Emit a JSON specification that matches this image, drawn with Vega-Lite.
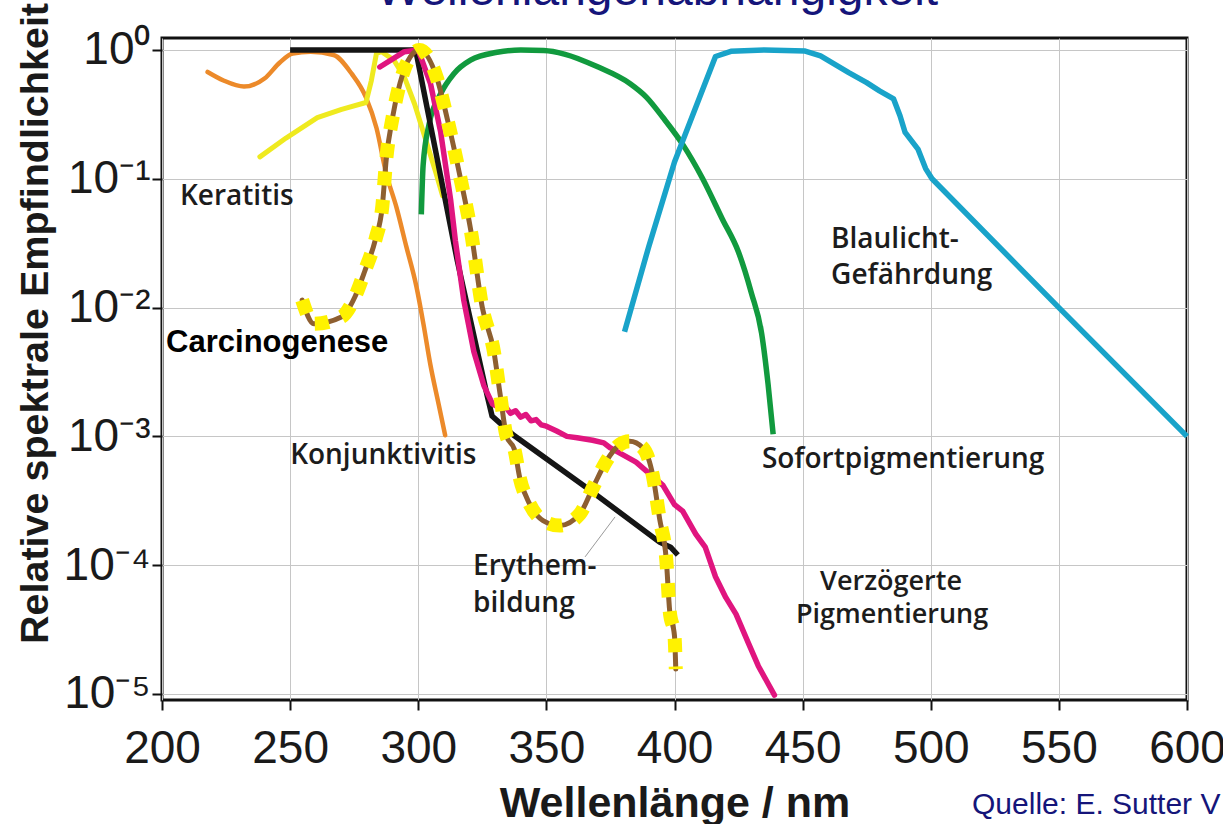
{
  "$schema": "https://vega.github.io/schema/vega-lite/v6.json",
  "width": 1025,
  "height": 662,
  "autosize": {"type": "none"},
  "padding": {"left": 162, "top": 38, "right": 36, "bottom": 124},
  "background": "white",
  "config": {
    "view": {"stroke": "#111111", "strokeWidth": 3},
    "axis": {"domain": false}
  },
  "datasets": {
    "curves": [
      {"s": "orange", "nm": 217.8, "v": 0.675}, {"s": "orange", "nm": 224, "v": 0.58}, {"s": "orange", "nm": 232, "v": 0.52}, {"s": "orange", "nm": 240, "v": 0.6}, {"s": "orange", "nm": 246, "v": 0.8}, {"s": "orange", "nm": 251, "v": 0.94}, {"s": "orange", "nm": 258, "v": 0.97}, {"s": "orange", "nm": 267, "v": 0.914}, {"s": "orange", "nm": 274, "v": 0.655}, {"s": "orange", "nm": 279.6, "v": 0.429}, {"s": "orange", "nm": 283.7, "v": 0.248}, {"s": "orange", "nm": 287.5, "v": 0.11}, {"s": "orange", "nm": 291.5, "v": 0.06}, {"s": "orange", "nm": 295.3, "v": 0.03}, {"s": "orange", "nm": 299.3, "v": 0.0145}, {"s": "orange", "nm": 302, "v": 0.0075}, {"s": "orange", "nm": 304.7, "v": 0.00363}, {"s": "orange", "nm": 308, "v": 0.00176}, {"s": "orange", "nm": 310.5, "v": 0.00102},

      {"s": "yellow", "nm": 238.2, "v": 0.148}, {"s": "yellow", "nm": 248.4, "v": 0.207}, {"s": "yellow", "nm": 260.6, "v": 0.298}, {"s": "yellow", "nm": 270.1, "v": 0.346}, {"s": "yellow", "nm": 279.6, "v": 0.391}, {"s": "yellow", "nm": 281.7, "v": 0.579}, {"s": "yellow", "nm": 283.7, "v": 0.942}, {"s": "yellow", "nm": 285.7, "v": 0.97}, {"s": "yellow", "nm": 290.5, "v": 0.834}, {"s": "yellow", "nm": 294.6, "v": 0.615}, {"s": "yellow", "nm": 298.6, "v": 0.379}, {"s": "yellow", "nm": 302.7, "v": 0.207}, {"s": "yellow", "nm": 306.8, "v": 0.113}, {"s": "yellow", "nm": 309.5, "v": 0.0738},

      {"s": "green", "nm": 301.2, "v": 0.053}, {"s": "green", "nm": 301.9, "v": 0.127}, {"s": "green", "nm": 304.2, "v": 0.264}, {"s": "green", "nm": 308.7, "v": 0.455}, {"s": "green", "nm": 313.9, "v": 0.655}, {"s": "green", "nm": 320.4, "v": 0.834}, {"s": "green", "nm": 330.8, "v": 0.96}, {"s": "green", "nm": 340, "v": 1.0}, {"s": "green", "nm": 349, "v": 0.99}, {"s": "green", "nm": 357, "v": 0.93}, {"s": "green", "nm": 370, "v": 0.74}, {"s": "green", "nm": 382.7, "v": 0.547}, {"s": "green", "nm": 389, "v": 0.431}, {"s": "green", "nm": 395.5, "v": 0.299}, {"s": "green", "nm": 403.2, "v": 0.185}, {"s": "green", "nm": 410.9, "v": 0.101}, {"s": "green", "nm": 418.6, "v": 0.049}, {"s": "green", "nm": 425, "v": 0.0269}, {"s": "green", "nm": 430, "v": 0.013}, {"s": "green", "nm": 434, "v": 0.0063}, {"s": "green", "nm": 436.5, "v": 0.00256}, {"s": "green", "nm": 438.5, "v": 0.00104},

      {"s": "blue", "nm": 380.5, "v": 0.0065}, {"s": "blue", "nm": 390, "v": 0.03}, {"s": "blue", "nm": 400, "v": 0.135}, {"s": "blue", "nm": 410, "v": 0.44}, {"s": "blue", "nm": 416, "v": 0.89}, {"s": "blue", "nm": 422, "v": 0.977}, {"s": "blue", "nm": 435, "v": 1.0}, {"s": "blue", "nm": 451, "v": 0.98}, {"s": "blue", "nm": 457, "v": 0.9}, {"s": "blue", "nm": 468, "v": 0.668}, {"s": "blue", "nm": 475, "v": 0.558}, {"s": "blue", "nm": 480, "v": 0.482}, {"s": "blue", "nm": 485.5, "v": 0.417}, {"s": "blue", "nm": 488, "v": 0.309}, {"s": "blue", "nm": 490, "v": 0.229}, {"s": "blue", "nm": 495, "v": 0.17}, {"s": "blue", "nm": 498, "v": 0.12}, {"s": "blue", "nm": 500.5, "v": 0.1}, {"s": "blue", "nm": 550, "v": 0.01}, {"s": "blue", "nm": 600, "v": 0.001},

      {"s": "black", "nm": 250, "v": 1.0}, {"s": "black", "nm": 299, "v": 1.0}, {"s": "black", "nm": 315.2, "v": 0.0233}, {"s": "black", "nm": 326.9, "v": 0.00207}, {"s": "black", "nm": 328.8, "v": 0.00144}, {"s": "black", "nm": 337, "v": 0.00103}, {"s": "black", "nm": 365.6, "v": 0.000401}, {"s": "black", "nm": 394.2, "v": 0.000151}, {"s": "black", "nm": 398.5, "v": 0.000138}, {"s": "black", "nm": 401.3, "v": 0.00012},

      {"s": "magenta", "nm": 285, "v": 0.738}, {"s": "magenta", "nm": 294.6, "v": 0.97}, {"s": "magenta", "nm": 300, "v": 1.0}, {"s": "magenta", "nm": 304.8, "v": 0.546}, {"s": "magenta", "nm": 308.7, "v": 0.233}, {"s": "magenta", "nm": 312.6, "v": 0.0695}, {"s": "magenta", "nm": 314.5, "v": 0.033}, {"s": "magenta", "nm": 317.8, "v": 0.0113}, {"s": "magenta", "nm": 321.7, "v": 0.00455}, {"s": "magenta", "nm": 325.6, "v": 0.00248}, {"s": "magenta", "nm": 329, "v": 0.00178}, {"s": "magenta", "nm": 332, "v": 0.00166}, {"s": "magenta", "nm": 334, "v": 0.0017}, {"s": "magenta", "nm": 336, "v": 0.00151}, {"s": "magenta", "nm": 338, "v": 0.00158}, {"s": "magenta", "nm": 340, "v": 0.00141}, {"s": "magenta", "nm": 342, "v": 0.00148}, {"s": "magenta", "nm": 344, "v": 0.00132}, {"s": "magenta", "nm": 346, "v": 0.00135}, {"s": "magenta", "nm": 348, "v": 0.00123}, {"s": "magenta", "nm": 350, "v": 0.0012}, {"s": "magenta", "nm": 354, "v": 0.0011}, {"s": "magenta", "nm": 358, "v": 0.001}, {"s": "magenta", "nm": 362, "v": 0.000977}, {"s": "magenta", "nm": 368, "v": 0.000933}, {"s": "magenta", "nm": 372.4, "v": 0.000891}, {"s": "magenta", "nm": 375, "v": 0.000813}, {"s": "magenta", "nm": 385, "v": 0.000631}, {"s": "magenta", "nm": 395.5, "v": 0.000417}, {"s": "magenta", "nm": 400, "v": 0.000295}, {"s": "magenta", "nm": 403.2, "v": 0.000263}, {"s": "magenta", "nm": 408.3, "v": 0.000174}, {"s": "magenta", "nm": 412, "v": 0.000138}, {"s": "magenta", "nm": 416, "v": 0.0000813}, {"s": "magenta", "nm": 420, "v": 0.0000562}, {"s": "magenta", "nm": 424, "v": 0.0000417}, {"s": "magenta", "nm": 428.8, "v": 0.0000249}, {"s": "magenta", "nm": 432.7, "v": 0.0000165}, {"s": "magenta", "nm": 439, "v": 0.0000098},

      {"s": "brown", "nm": 254.7, "v": 0.01143}, {"s": "brown", "nm": 259.3, "v": 0.00748}, {"s": "brown", "nm": 270, "v": 0.00845}, {"s": "brown", "nm": 275.3, "v": 0.01213}, {"s": "brown", "nm": 279.3, "v": 0.01963}, {"s": "brown", "nm": 283.3, "v": 0.0338}, {"s": "brown", "nm": 286, "v": 0.0618}, {"s": "brown", "nm": 287.5, "v": 0.141}, {"s": "brown", "nm": 290, "v": 0.301}, {"s": "brown", "nm": 294, "v": 0.658}, {"s": "brown", "nm": 298, "v": 0.942}, {"s": "brown", "nm": 300.5, "v": 1.0}, {"s": "brown", "nm": 307.3, "v": 0.603}, {"s": "brown", "nm": 311.5, "v": 0.282}, {"s": "brown", "nm": 316.5, "v": 0.1}, {"s": "brown", "nm": 320.5, "v": 0.0398}, {"s": "brown", "nm": 325, "v": 0.01}, {"s": "brown", "nm": 329.5, "v": 0.00457}, {"s": "brown", "nm": 332, "v": 0.00209}, {"s": "brown", "nm": 334.5, "v": 0.001}, {"s": "brown", "nm": 337.5, "v": 0.000794}, {"s": "brown", "nm": 339.6, "v": 0.000478}, {"s": "brown", "nm": 343.5, "v": 0.000298}, {"s": "brown", "nm": 348.7, "v": 0.000222}, {"s": "brown", "nm": 355.2, "v": 0.000203}, {"s": "brown", "nm": 363, "v": 0.000249}, {"s": "brown", "nm": 368.2, "v": 0.000401}, {"s": "brown", "nm": 373.4, "v": 0.000643}, {"s": "brown", "nm": 378.6, "v": 0.000863}, {"s": "brown", "nm": 382.5, "v": 0.000916}, {"s": "brown", "nm": 387.7, "v": 0.000813}, {"s": "brown", "nm": 391.6, "v": 0.00049}, {"s": "brown", "nm": 394.2, "v": 0.000229}, {"s": "brown", "nm": 396.8, "v": 0.00011}, {"s": "brown", "nm": 398.1, "v": 0.0000447}, {"s": "brown", "nm": 400, "v": 0.0000282}, {"s": "brown", "nm": 400.5, "v": 0.0000156},

      {"s": "leader", "nm": 365.1, "v": 0.000116}, {"s": "leader", "nm": 376.8, "v": 0.000237}
    ],
    "labels": [
      {"t": "Keratitis", "nm": 207, "v": 0.0722},
      {"t": "Konjunktivitis", "nm": 250, "v": 0.0007},
      {"t": "Erythem-", "nm": 321.4, "v": 0.0000968},
      {"t": "bildung", "nm": 321.4, "v": 0.00005},
      {"t": "Sofortpigmentierung", "nm": 434.1, "v": 0.000661},
      {"t": "Blaulicht-", "nm": 461.1, "v": 0.0332},
      {"t": "Gefährdung", "nm": 461.1, "v": 0.0176}
    ],
    "centered": [
      {"t": "Verzögerte", "nm": 484.5, "v": 0.0000743},
      {"t": "Pigmentierung", "nm": 484.9, "v": 0.0000407}
    ],
    "bold": [
      {"t": "Carcinogenese", "nm": 201.6, "v": 0.00531}
    ],
    "source": [
      {"t": "Quelle: E. Sutter V", "nm": 516.1, "v": 0.000001374}
    ],
    "heading": [
      {"t": "Wellenlängenabhängigkeit", "nm": 393.2, "v": 2.236}
    ]
  },
  "encoding": {
    "x": {
      "field": "nm", "type": "quantitative",
      "scale": {"domain": [200, 600], "nice": false, "zero": false},
      "axis": {
        "values": [200, 250, 300, 350, 400, 450, 500, 550, 600],
        "grid": true, "gridColor": "#c6c6c6", "gridWidth": 1,
        "ticks": true, "tickSize": 10, "tickWidth": 2, "tickColor": "#111111",
        "labelFont": "Liberation Sans Narrow, Liberation Sans", "labelFontSize": 46, "labelColor": "#1a1a1a",
        "labelPadding": 16, "labelOverlap": false, "labelFlush": false, "labelBound": false,
        "title": "Wellenlänge / nm", "titleFont": "Liberation Sans", "titleFontSize": 43, "titleFontWeight": "bold",
        "titleColor": "#1a1a1a", "titlePadding": 11
      }
    },
    "y": {
      "field": "v", "type": "quantitative",
      "scale": {"type": "log", "domain": [0.00000898, 1.239], "nice": false},
      "axis": {
        "values": [1, 0.1, 0.01, 0.001, 0.0001, 0.00001],
        "grid": true, "gridColor": "#c6c6c6", "gridWidth": 1,
        "ticks": true, "tickSize": 10, "tickWidth": 2, "tickColor": "#111111",
        "labelExpr": "'10' + ['⁰','⁻¹','⁻²','⁻³','⁻⁴','⁻⁵'][round(-log(datum.value)/LN10)]",
        "labelFont": "Liberation Sans Narrow, Liberation Sans", "labelFontSize": 46, "labelColor": "#1a1a1a",
        "labelPadding": 2, "labelOverlap": false, "labelBound": false,
        "title": "Relative spektrale Empfindlichkeit", "titleFont": "Liberation Sans", "titleFontSize": 39.5, "titleFontWeight": "bold",
        "titleColor": "#1a1a1a", "titleX": -127, "titleY": 285, "titleAngle": -90, "titleAlign": "center", "titleBaseline": "middle"
      }
    }
  },
  "layer": [
    {"data": {"name": "curves"}, "transform": [{"filter": "datum.s == 'orange'"}], "mark": {"type": "line", "color": "#EC8A2A", "strokeWidth": 4.5, "strokeJoin": "round", "strokeCap": "round", "interpolate": "monotone"}},
    {"data": {"name": "curves"}, "transform": [{"filter": "datum.s == 'yellow'"}], "mark": {"type": "line", "color": "#EFEA1F", "strokeWidth": 5, "strokeJoin": "round", "strokeCap": "round"}},
    {"data": {"name": "curves"}, "transform": [{"filter": "datum.s == 'green'"}], "mark": {"type": "line", "color": "#119A3E", "strokeWidth": 5.5, "strokeJoin": "round", "strokeCap": "butt", "interpolate": "monotone"}},
    {"data": {"name": "curves"}, "transform": [{"filter": "datum.s == 'blue'"}], "mark": {"type": "line", "color": "#19A3C9", "strokeWidth": 5.5, "strokeJoin": "round", "strokeCap": "butt"}},
    {"data": {"name": "curves"}, "transform": [{"filter": "datum.s == 'black'"}], "mark": {"type": "line", "color": "#151515", "strokeWidth": 5.5, "strokeJoin": "miter", "strokeCap": "butt"}},
    {"data": {"name": "curves"}, "transform": [{"filter": "datum.s == 'magenta'"}], "mark": {"type": "line", "color": "#E0157F", "strokeWidth": 5.5, "strokeJoin": "round", "strokeCap": "round"}},
    {"data": {"name": "curves"}, "transform": [{"filter": "datum.s == 'brown'"}], "mark": {"type": "line", "color": "#8E5F30", "strokeWidth": 5, "strokeJoin": "round", "strokeCap": "round", "interpolate": "monotone"}},
    {"data": {"name": "curves"}, "transform": [{"filter": "datum.s == 'brown'"}], "mark": {"type": "line", "color": "#FFF200", "strokeWidth": 14, "strokeDash": [14, 14], "strokeCap": "butt", "strokeJoin": "miter", "interpolate": "monotone"}},
    {"data": {"name": "curves"}, "transform": [{"filter": "datum.s == 'leader'"}], "mark": {"type": "line", "color": "#9a9a9a", "strokeWidth": 1}},
    {"data": {"name": "labels"}, "mark": {"type": "text", "align": "left", "baseline": "middle", "font": "Open Sans", "fontWeight": 600, "fontSize": 28, "color": "#1c1c1c"}, "encoding": {"text": {"field": "t"}}},
    {"data": {"name": "centered"}, "mark": {"type": "text", "align": "center", "baseline": "middle", "font": "Open Sans", "fontWeight": 600, "fontSize": 27, "color": "#1c1c1c"}, "encoding": {"text": {"field": "t"}}},
    {"data": {"name": "bold"}, "mark": {"type": "text", "align": "left", "baseline": "middle", "font": "Liberation Sans", "fontWeight": "bold", "fontSize": 31, "color": "#000000"}, "encoding": {"text": {"field": "t"}}},
    {"data": {"name": "source"}, "mark": {"type": "text", "align": "left", "baseline": "middle", "font": "Liberation Sans Narrow, Liberation Sans", "fontSize": 30, "color": "#15157a"}, "encoding": {"text": {"field": "t"}}},
    {"data": {"name": "heading"}, "mark": {"type": "text", "align": "center", "baseline": "alphabetic", "font": "Liberation Sans Narrow, Liberation Sans", "fontSize": 48, "color": "#15157a"}, "encoding": {"text": {"field": "t"}}}
  ]
}
